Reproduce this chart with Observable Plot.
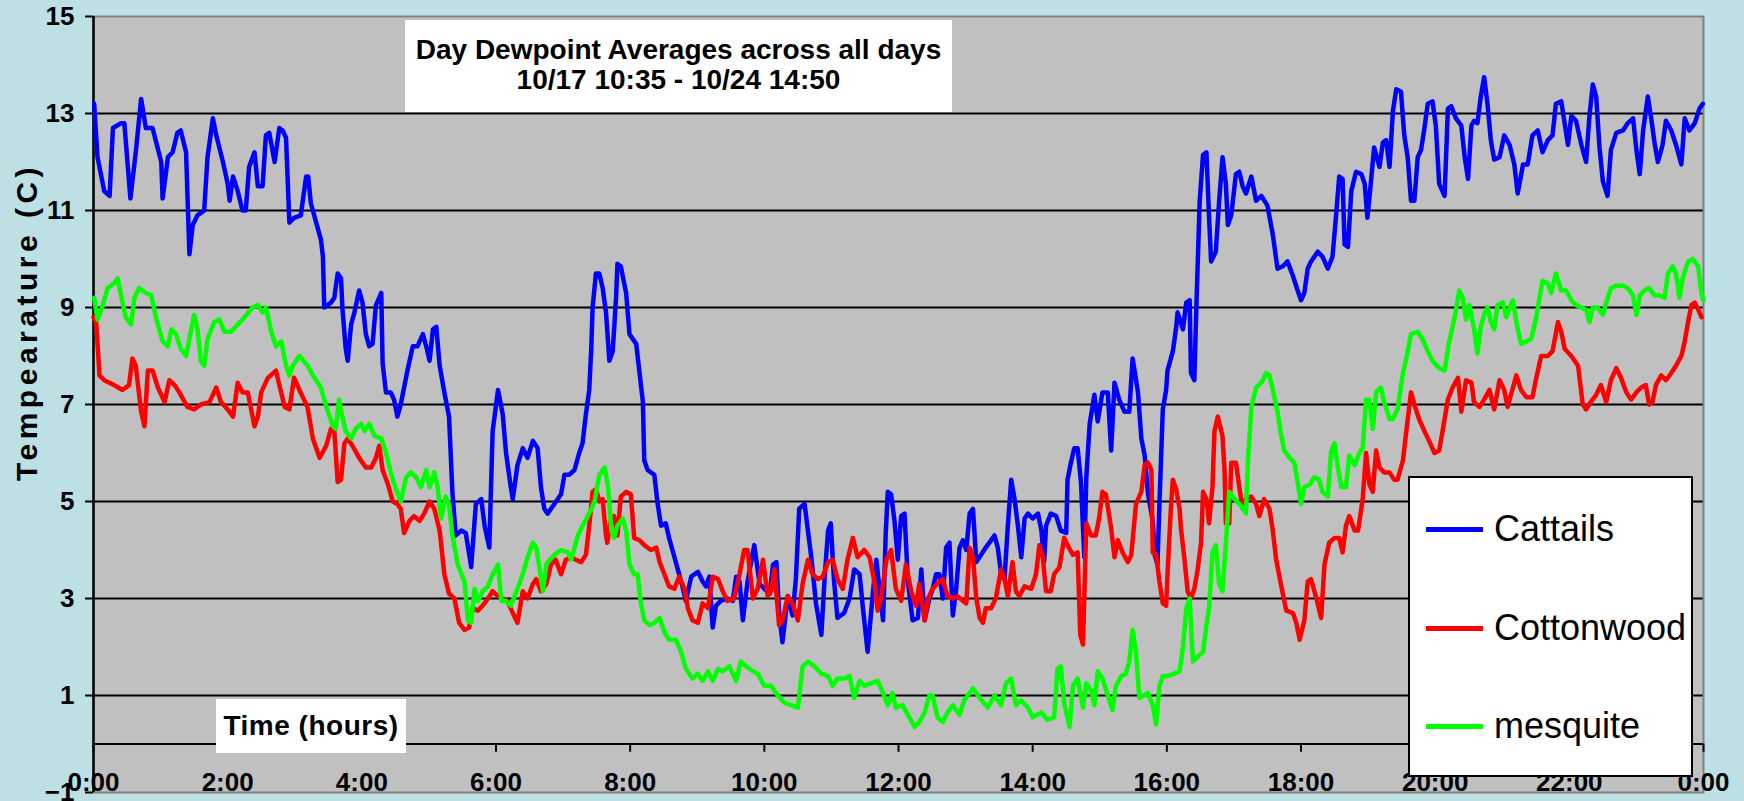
<!DOCTYPE html>
<html>
<head>
<meta charset="utf-8">
<script src="https://cdn.jsdelivr.net/npm/d3@7"></script>
<script src="https://cdn.jsdelivr.net/npm/@observablehq/plot@0.6"></script>
<style>
  body { margin: 0; background: #bce0e4; font-family: "Liberation Sans", Arial, sans-serif; }
  #wrap { position: relative; width: 1744px; height: 801px; overflow: hidden; }
  .box { position: absolute; background: #fff; color: #000; }
  #title { left: 405px; top: 20px; width: 547px; height: 92px; font-weight: bold; font-size: 28px; line-height: 30px; text-align: center; padding-top: 15px; box-sizing: border-box; }
  #timebox { left: 216px; top: 699px; width: 190px; height: 54px; font-weight: bold; font-size: 28px; line-height: 54px; text-align: center; letter-spacing: 0.5px; }
  #legend { left: 1408px; top: 476px; width: 285px; height: 301px; border: 2px solid #000; box-sizing: border-box; }
  .lg { position: absolute; left: 84px; height: 40px; line-height: 40px; font-size: 36px; }
  .sw { position: absolute; left: 16px; width: 57px; height: 5px; }
  #ylabel { position: absolute; left: 27px; top: 322px; transform: translate(-50%, -50%) rotate(-90deg); white-space: nowrap; font-weight: bold; font-size: 30px; letter-spacing: 4.5px; color: #000; }
</style>
</head>
<body>
<div id="wrap"></div>
<script>
// ---- axis / tick labels ----
const xTicks = [0, 2, 4, 6, 8, 10, 12, 14, 16, 18, 20, 22, 24];
const xTickLabels = ["0:00", "2:00", "4:00", "6:00", "8:00", "10:00", "12:00", "14:00", "16:00", "18:00", "20:00", "22:00", "0:00"];
const yTicks = [-1, 1, 3, 5, 7, 9, 11, 13, 15];
const gridValues = [0, 1, 3, 5, 7, 9, 11, 13];
const seriesNames = ["Cattails", "Cottonwood", "mesquite"];
const seriesColors = ["#0000ff", "#ff0000", "#00ff00"];
const yLabel = "Tempearature (C)";
const xLabel = "Time (hours)";
const titleLines = ["Day Dewpoint Averages across all days", "10/17 10:35 - 10/24 14:50"];

// ---- Cattails (hours of day, dewpoint C) ----
const cattailsHours = [0.01,0.06,0.16,0.24,0.29,0.41,0.46,0.55,0.63,0.71,0.78,0.88,1.01,1.03,1.11,1.18,1.25,1.30,1.38,1.43,1.48,1.55,1.65,1.70,1.78,1.83,1.93,2.00,2.03,2.08,2.15,2.22,2.27,2.32,2.40,2.45,2.52,2.57,2.62,2.70,2.77,2.82,2.87,2.92,2.99,3.09,3.17,3.20,3.24,3.32,3.39,3.42,3.44,3.54,3.59,3.64,3.69,3.71,3.76,3.79,3.84,3.89,3.96,4.01,4.06,4.11,4.16,4.21,4.29,4.31,4.36,4.43,4.48,4.53,4.58,4.68,4.76,4.83,4.91,4.96,5.01,5.06,5.11,5.16,5.23,5.30,5.35,5.40,5.48,5.55,5.63,5.70,5.78,5.83,5.90,5.95,6.03,6.10,6.15,6.22,6.25,6.32,6.40,6.47,6.55,6.62,6.67,6.72,6.77,6.87,6.97,7.02,7.09,7.17,7.24,7.29,7.34,7.39,7.42,7.44,7.49,7.54,7.59,7.64,7.69,7.74,7.79,7.81,7.86,7.94,7.99,8.09,8.14,8.19,8.21,8.26,8.36,8.41,8.46,8.53,8.58,8.66,8.71,8.78,8.83,8.91,9.01,9.08,9.13,9.18,9.23,9.28,9.35,9.45,9.53,9.58,9.63,9.68,9.75,9.85,9.93,10.00,10.08,10.13,10.18,10.22,10.27,10.35,10.42,10.47,10.52,10.60,10.65,10.70,10.77,10.85,10.90,10.95,10.99,11.04,11.09,11.19,11.27,11.34,11.42,11.47,11.54,11.62,11.67,11.72,11.77,11.81,11.84,11.89,11.94,11.99,12.04,12.09,12.14,12.21,12.29,12.34,12.39,12.46,12.51,12.56,12.61,12.66,12.71,12.76,12.81,12.86,12.91,12.96,13.01,13.06,13.11,13.16,13.23,13.30,13.38,13.43,13.48,13.53,13.58,13.63,13.68,13.73,13.78,13.83,13.88,13.93,14.00,14.08,14.13,14.17,14.20,14.27,14.35,14.42,14.50,14.52,14.57,14.62,14.67,14.72,14.77,14.80,14.85,14.92,14.97,15.04,15.12,15.17,15.22,15.29,15.37,15.44,15.49,15.57,15.62,15.67,15.72,15.79,15.82,15.86,15.89,15.94,15.99,16.01,16.09,16.14,16.16,16.24,16.29,16.34,16.36,16.41,16.44,16.49,16.54,16.59,16.63,16.66,16.73,16.78,16.83,16.88,16.91,16.96,17.03,17.08,17.13,17.18,17.26,17.33,17.41,17.50,17.58,17.65,17.73,17.80,17.88,17.95,18.00,18.05,18.10,18.15,18.25,18.32,18.40,18.47,18.52,18.57,18.62,18.65,18.70,18.75,18.82,18.90,18.95,18.99,19.04,19.09,19.17,19.22,19.27,19.32,19.37,19.42,19.49,19.54,19.59,19.64,19.69,19.74,19.79,19.84,19.89,19.96,20.01,20.06,20.14,20.19,20.24,20.31,20.39,20.44,20.49,20.54,20.58,20.63,20.68,20.73,20.78,20.83,20.88,20.96,21.03,21.11,21.18,21.23,21.31,21.38,21.45,21.53,21.60,21.68,21.75,21.80,21.88,21.98,22.03,22.10,22.18,22.25,22.30,22.35,22.40,22.45,22.50,22.57,22.62,22.70,22.80,22.87,22.95,23.00,23.05,23.10,23.17,23.22,23.27,23.32,23.39,23.44,23.52,23.59,23.67,23.72,23.79,23.87,23.94,23.99];
const cattailsDew = [13.2,12.1,11.4,11.3,12.7,12.8,12.8,11.25,12.2,13.3,12.7,12.7,12.0,11.25,12.1,12.2,12.6,12.65,12.2,10.1,10.7,10.9,11.0,12.1,12.9,12.55,12.0,11.55,11.2,11.7,11.4,11.0,11.0,11.9,12.2,11.5,11.5,12.55,12.6,12.0,12.7,12.65,12.5,10.75,10.85,10.9,11.7,11.7,11.15,10.75,10.4,10.05,9.0,9.1,9.2,9.7,9.6,9.0,8.15,7.9,8.65,8.9,9.35,9.1,8.45,8.2,8.25,9.05,9.3,7.85,7.25,7.25,7.1,6.75,7.0,7.7,8.2,8.2,8.45,8.2,7.9,8.55,8.6,7.8,7.25,6.75,5.2,4.3,4.4,4.35,3.65,4.95,5.05,4.5,4.05,6.45,7.3,6.8,6.0,5.3,5.05,5.75,6.1,5.9,6.25,6.1,5.3,4.85,4.75,4.95,5.15,5.55,5.55,5.65,6.0,6.2,6.8,7.3,8.15,9.0,9.7,9.7,9.4,8.9,7.9,8.1,9.2,9.9,9.85,9.3,8.45,8.25,7.65,7.05,5.85,5.65,5.55,4.95,4.5,4.55,4.25,3.85,3.6,3.25,2.95,3.45,3.55,3.35,3.25,3.45,2.4,2.85,2.95,3.0,2.95,3.45,3.35,2.55,3.35,4.1,3.3,3.2,3.1,3.7,3.75,2.7,2.1,3.05,2.65,3.4,4.85,4.95,4.4,3.85,2.9,2.25,3.45,4.4,4.55,3.35,2.6,2.7,3.0,3.6,3.5,2.8,1.9,3.15,3.8,3.15,2.55,4.35,5.2,5.15,4.6,3.8,4.7,4.75,3.35,2.55,2.6,3.6,2.55,3.0,3.2,3.5,3.5,3.0,4.05,4.15,2.65,3.2,4.05,4.2,4.0,4.75,4.85,3.75,3.9,4.05,4.2,4.3,4.05,3.5,3.4,4.5,5.45,5.05,4.5,3.85,4.65,4.75,4.65,4.75,4.4,3.75,4.5,4.75,4.7,4.4,4.35,5.45,5.8,6.1,6.1,5.4,3.85,5.5,6.6,7.2,6.65,7.25,7.25,6.05,7.45,7.1,6.85,6.85,7.95,7.25,6.3,5.95,5.15,4.6,3.9,3.7,4.95,6.9,7.3,7.7,8.1,8.6,8.9,8.55,9.1,9.15,7.65,7.5,9.0,11.2,12.15,12.2,10.85,9.95,10.15,11.2,12.1,11.55,10.7,10.9,11.75,11.8,11.5,11.35,11.7,11.2,11.3,11.1,10.5,9.8,9.85,9.95,9.65,9.35,9.15,9.3,9.8,9.95,10.15,10.05,9.8,10.05,10.85,11.7,11.65,10.3,10.25,11.4,11.8,11.75,11.55,10.85,11.55,12.3,11.9,12.4,12.45,11.9,13.05,13.5,13.45,12.55,12.1,11.2,11.2,12.1,12.25,12.7,13.2,13.25,12.75,11.55,11.3,13.1,13.15,12.9,12.75,12.1,11.65,12.75,12.85,12.8,13.35,13.75,13.2,12.45,12.05,12.1,12.55,12.35,11.95,11.35,11.95,11.95,12.55,12.65,12.2,12.45,12.55,13.2,13.25,12.35,12.95,12.85,12.35,12.0,12.95,13.6,13.35,12.3,11.6,11.3,12.25,12.6,12.65,12.8,12.9,12.25,11.75,12.65,13.35,12.9,12.4,12.0,12.35,12.85,12.65,12.35,11.95,12.9,12.65,12.8,13.1,13.2];

// ---- Cottonwood ----
const cottonwoodHours = [0.00,0.04,0.09,0.16,0.31,0.43,0.53,0.58,0.63,0.71,0.76,0.81,0.88,0.96,1.06,1.13,1.21,1.28,1.40,1.50,1.60,1.73,1.83,1.90,2.00,2.08,2.15,2.22,2.30,2.40,2.45,2.50,2.60,2.72,2.77,2.85,2.92,2.99,3.07,3.19,3.27,3.37,3.47,3.54,3.59,3.64,3.69,3.74,3.79,3.86,3.96,4.06,4.14,4.21,4.26,4.31,4.39,4.46,4.53,4.58,4.63,4.71,4.78,4.86,4.93,5.01,5.08,5.16,5.23,5.30,5.38,5.45,5.53,5.60,5.65,5.73,5.80,5.88,5.95,6.03,6.10,6.17,6.25,6.32,6.40,6.47,6.55,6.60,6.67,6.75,6.82,6.89,6.97,7.04,7.12,7.19,7.27,7.34,7.39,7.44,7.49,7.54,7.59,7.64,7.66,7.71,7.76,7.81,7.86,7.94,8.01,8.06,8.14,8.21,8.31,8.39,8.44,8.51,8.58,8.66,8.73,8.81,8.86,8.93,9.01,9.08,9.16,9.23,9.31,9.38,9.45,9.55,9.63,9.70,9.75,9.83,9.90,9.98,10.05,10.10,10.15,10.22,10.27,10.35,10.42,10.50,10.57,10.65,10.72,10.80,10.87,10.95,11.02,11.09,11.17,11.24,11.32,11.39,11.49,11.57,11.64,11.69,11.74,11.82,11.89,11.96,12.04,12.11,12.19,12.26,12.31,12.39,12.44,12.51,12.61,12.66,12.73,12.81,12.88,12.96,13.01,13.06,13.11,13.16,13.21,13.26,13.30,13.38,13.45,13.53,13.58,13.63,13.70,13.75,13.80,13.88,13.98,14.05,14.10,14.15,14.20,14.27,14.32,14.40,14.47,14.52,14.60,14.67,14.71,14.75,14.80,14.87,14.94,14.99,15.04,15.09,15.17,15.22,15.27,15.34,15.42,15.47,15.54,15.62,15.67,15.72,15.77,15.79,15.84,15.89,15.94,15.99,16.01,16.06,16.09,16.14,16.19,16.21,16.26,16.31,16.36,16.41,16.46,16.51,16.54,16.59,16.63,16.68,16.71,16.76,16.83,16.86,16.88,16.93,16.96,17.03,17.08,17.13,17.18,17.26,17.33,17.38,17.45,17.53,17.58,17.63,17.70,17.78,17.88,17.93,17.98,18.05,18.10,18.15,18.22,18.30,18.35,18.42,18.50,18.57,18.62,18.67,18.72,18.80,18.85,18.92,18.97,19.02,19.07,19.12,19.17,19.24,19.32,19.39,19.44,19.52,19.57,19.64,19.69,19.76,19.84,19.91,19.99,20.06,20.11,20.19,20.26,20.34,20.39,20.46,20.54,20.58,20.66,20.73,20.81,20.88,20.96,21.03,21.08,21.16,21.21,21.28,21.36,21.45,21.50,21.58,21.68,21.75,21.83,21.88,21.93,22.03,22.13,22.20,22.25,22.32,22.40,22.47,22.55,22.62,22.70,22.77,22.85,22.92,23.00,23.07,23.14,23.19,23.24,23.29,23.37,23.44,23.52,23.59,23.67,23.72,23.77,23.82,23.87,23.94,23.97];
const cottonwoodDew = [8.8,8.7,7.6,7.5,7.4,7.3,7.4,7.95,7.8,6.85,6.55,7.7,7.7,7.35,7.05,7.5,7.4,7.25,6.95,6.9,7.0,7.05,7.35,7.05,6.9,6.75,7.45,7.25,7.25,6.55,6.75,7.25,7.55,7.7,7.4,6.95,6.9,7.55,7.3,6.95,6.3,5.9,6.15,6.5,6.45,5.4,5.45,6.2,6.3,6.15,5.9,5.7,5.7,5.9,6.15,5.65,5.35,5.0,4.95,4.85,4.35,4.6,4.7,4.6,4.75,5.0,4.85,4.4,3.5,3.1,3.0,2.5,2.35,2.4,2.8,2.75,2.85,3.0,3.15,3.05,3.0,2.95,2.7,2.5,3.15,3.0,3.3,3.4,3.15,3.3,3.7,3.8,3.5,3.8,3.85,3.8,3.75,3.9,4.5,5.2,5.25,5.0,5.05,4.3,4.15,4.6,4.7,4.3,5.1,5.2,5.15,4.25,4.2,4.1,4.0,4.05,3.75,3.5,3.25,3.2,3.45,3.2,2.8,2.55,2.5,2.9,2.8,3.45,3.4,3.15,2.95,3.0,3.5,4.0,4.0,3.0,3.2,3.8,3.05,3.15,3.6,2.45,2.55,3.05,2.9,2.55,3.3,3.8,3.5,3.4,3.45,3.75,3.8,3.4,3.2,3.8,4.25,3.85,4.0,3.85,3.35,2.75,3.0,3.8,4.0,3.2,2.95,3.7,3.15,2.85,3.3,2.55,3.0,3.2,3.35,3.4,3.05,3.0,3.05,2.95,2.9,4.05,3.85,3.0,2.6,2.5,2.8,2.8,3.0,3.6,3.4,3.05,3.75,3.15,3.05,3.25,3.2,3.5,4.1,3.85,3.15,3.15,3.5,3.65,4.25,4.1,3.9,3.95,2.25,2.05,4.55,4.3,4.3,4.65,5.2,5.15,4.45,3.85,4.2,3.95,3.75,3.9,4.95,5.2,5.75,5.8,5.65,3.95,3.9,3.35,2.9,2.85,3.5,4.85,5.45,5.25,4.85,4.45,3.85,3.15,3.0,3.2,3.6,4.15,5.2,5.05,4.55,5.3,6.45,6.75,6.35,5.65,4.55,4.55,5.8,5.8,5.3,4.85,5.05,5.1,4.95,4.7,5.05,4.85,4.4,3.8,3.3,2.75,2.7,2.5,2.15,2.55,3.35,3.4,3.05,2.6,3.7,4.15,4.25,4.25,3.95,4.5,4.7,4.4,4.4,5.05,6.0,5.35,5.2,6.05,5.7,5.6,5.6,5.45,5.45,5.85,6.45,7.25,7.0,6.7,6.45,6.25,6.0,6.05,6.45,7.1,7.35,7.55,6.85,7.5,7.45,7.05,6.95,7.1,7.3,6.9,7.5,7.3,6.95,7.35,7.6,7.3,7.15,7.15,7.5,8.0,8.0,8.1,8.7,8.5,8.15,8.0,7.8,7.0,6.9,7.05,7.2,7.4,7.05,7.5,7.75,7.55,7.25,7.1,7.25,7.35,7.4,7.0,7.05,7.4,7.6,7.5,7.65,7.8,8.0,8.3,8.7,9.05,9.1,8.9,8.8];

// ---- mesquite ----
const mesquiteHours = [0.01,0.06,0.14,0.21,0.31,0.36,0.41,0.48,0.56,0.61,0.68,0.78,0.86,0.93,1.03,1.11,1.16,1.23,1.30,1.38,1.45,1.50,1.55,1.60,1.65,1.70,1.80,1.88,1.95,2.05,2.15,2.25,2.37,2.45,2.52,2.57,2.65,2.72,2.80,2.87,2.92,2.97,3.07,3.19,3.27,3.39,3.47,3.57,3.61,3.66,3.71,3.76,3.84,3.91,3.99,4.04,4.11,4.19,4.29,4.36,4.44,4.51,4.58,4.66,4.73,4.81,4.88,4.96,5.01,5.08,5.13,5.18,5.25,5.30,5.35,5.43,5.53,5.58,5.63,5.68,5.73,5.80,5.88,5.95,6.03,6.08,6.15,6.22,6.32,6.40,6.47,6.55,6.60,6.65,6.70,6.75,6.80,6.87,6.97,7.07,7.12,7.17,7.22,7.29,7.37,7.47,7.54,7.62,7.67,7.72,7.76,7.81,7.89,7.94,7.99,8.06,8.11,8.16,8.21,8.29,8.36,8.44,8.51,8.58,8.68,8.76,8.83,8.93,9.01,9.08,9.16,9.23,9.31,9.38,9.48,9.58,9.65,9.73,9.83,9.90,10.00,10.10,10.20,10.30,10.40,10.50,10.57,10.65,10.75,10.85,10.95,11.02,11.09,11.19,11.27,11.34,11.42,11.49,11.59,11.69,11.77,11.84,11.91,11.96,12.06,12.14,12.24,12.31,12.39,12.46,12.51,12.58,12.66,12.73,12.81,12.91,12.98,13.11,13.21,13.33,13.43,13.53,13.60,13.68,13.75,13.83,13.93,14.00,14.13,14.22,14.32,14.37,14.42,14.47,14.55,14.60,14.67,14.75,14.80,14.87,14.92,14.97,15.04,15.12,15.19,15.24,15.32,15.39,15.44,15.49,15.54,15.59,15.72,15.79,15.84,15.89,15.94,16.01,16.11,16.19,16.24,16.29,16.34,16.39,16.46,16.54,16.59,16.63,16.68,16.73,16.78,16.83,16.88,16.93,17.01,17.11,17.18,17.21,17.26,17.33,17.41,17.48,17.53,17.58,17.65,17.70,17.75,17.83,17.90,17.95,18.00,18.05,18.13,18.20,18.27,18.32,18.40,18.45,18.50,18.55,18.60,18.67,18.72,18.80,18.87,18.92,18.97,19.02,19.07,19.12,19.19,19.24,19.32,19.37,19.44,19.52,19.57,19.64,19.74,19.81,19.89,19.96,20.06,20.14,20.21,20.29,20.36,20.41,20.46,20.51,20.58,20.63,20.68,20.73,20.78,20.83,20.88,20.93,21.01,21.06,21.11,21.16,21.21,21.28,21.36,21.43,21.50,21.55,21.60,21.68,21.73,21.80,21.88,21.95,22.03,22.10,22.18,22.25,22.30,22.35,22.42,22.50,22.55,22.62,22.70,22.80,22.87,22.95,23.00,23.05,23.12,23.19,23.27,23.34,23.42,23.47,23.54,23.59,23.64,23.69,23.77,23.84,23.92,23.97,24.00];
const mesquiteDew = [9.2,8.75,9.05,9.4,9.5,9.6,9.25,8.8,8.65,9.2,9.4,9.3,9.25,8.8,8.3,8.2,8.55,8.45,8.15,8.0,8.5,8.85,8.55,7.9,7.8,8.35,8.7,8.75,8.5,8.5,8.65,8.8,9.0,9.05,8.9,9.0,8.5,8.2,8.3,7.8,7.6,7.8,8.0,7.8,7.6,7.35,6.95,6.55,6.5,7.1,6.75,6.45,6.3,6.5,6.6,6.45,6.6,6.35,6.3,6.0,5.55,5.25,5.0,5.5,5.6,5.5,5.3,5.65,5.3,5.6,5.3,4.65,5.1,4.95,4.3,3.7,3.35,2.55,2.5,3.2,2.95,3.15,3.25,3.5,3.7,2.95,2.95,2.85,3.2,3.5,3.85,4.15,4.05,3.6,3.15,3.7,3.8,3.9,4.0,3.95,3.8,4.05,4.3,4.5,4.7,5.0,5.55,5.7,5.3,4.4,4.25,4.5,4.65,4.4,3.7,3.5,3.5,2.9,2.55,2.45,2.5,2.6,2.3,2.15,2.15,1.9,1.55,1.35,1.45,1.3,1.5,1.3,1.55,1.5,1.6,1.3,1.7,1.6,1.5,1.45,1.2,1.2,1.0,0.85,0.8,0.75,1.6,1.7,1.6,1.45,1.4,1.2,1.35,1.35,1.4,0.95,1.3,1.2,1.25,1.3,1.05,0.8,1.05,0.75,0.8,0.6,0.35,0.45,0.65,1.0,1.0,0.55,0.45,0.65,0.8,0.6,0.9,1.15,0.95,0.75,1.0,0.8,1.25,1.35,0.8,0.9,0.75,0.55,0.65,0.5,0.55,1.55,1.6,0.85,0.35,1.2,1.35,0.75,1.25,1.1,0.8,1.5,1.35,1.0,0.7,1.2,1.4,1.45,1.7,2.35,1.9,0.95,1.05,0.8,0.4,1.2,1.4,1.4,1.45,1.5,2.0,2.8,3.0,1.7,1.8,1.9,2.45,2.8,3.95,4.1,3.3,3.15,4.15,5.2,5.05,4.9,4.75,5.85,6.95,7.35,7.45,7.65,7.6,7.3,6.85,6.4,6.05,5.9,5.8,5.4,4.95,5.3,5.35,5.5,5.45,5.2,5.1,6.05,6.2,5.7,5.3,5.3,5.95,5.75,6.0,6.1,7.1,7.1,6.5,7.25,7.35,7.05,6.7,6.7,6.9,7.65,7.95,8.45,8.5,8.35,8.1,7.9,7.75,7.7,8.3,8.8,9.35,9.2,8.75,9.05,8.55,8.05,8.6,8.85,9.0,8.7,8.55,9.05,9.1,8.8,9.0,9.15,8.7,8.25,8.3,8.35,8.75,9.15,9.55,9.5,9.3,9.7,9.35,9.35,9.15,9.05,9.0,8.95,8.7,9.0,9.0,8.85,9.1,9.4,9.45,9.45,9.4,9.25,8.85,9.25,9.35,9.4,9.25,9.25,9.2,9.7,9.85,9.7,9.2,9.6,9.95,10.0,9.85,9.3,9.15];

const toRows = (hours, dew, name) => hours.map((h, i) => ({hour: h, dew: dew[i], series: name}));
const cattails = toRows(cattailsHours, cattailsDew, seriesNames[0]);
const cottonwood = toRows(cottonwoodHours, cottonwoodDew, seriesNames[1]);
const mesquite = toRows(mesquiteHours, mesquiteDew, seriesNames[2]);

const font = "Liberation Sans, Arial, sans-serif";
const chart = Plot.plot({
  width: 1744,
  height: 801,
  marginLeft: 93,
  marginRight: 41,
  marginTop: 16,
  marginBottom: 9,
  style: {background: "transparent", fontFamily: font, overflow: "visible", color: "#000"},
  x: {domain: [0, 24], axis: null},
  y: {domain: [-1, 15], axis: null},
  marks: [
    Plot.frame({fill: "#c0c0c0"}),
    Plot.ruleY(gridValues, {stroke: "#000", strokeWidth: 2}),
    Plot.frame({stroke: "#808080", strokeWidth: 2}),
    Plot.ruleX([0], {stroke: "#000", strokeWidth: 2.5}),
    Plot.ruleX(xTicks, {y1: 0, y2: -0.17, stroke: "#000", strokeWidth: 2}),
    Plot.axisY({ticks: yTicks, tickSize: 8, tickPadding: 11, fontSize: 26, fontWeight: "bold", label: null, strokeWidth: 2}),
    Plot.text(xTicks, {x: d => d, y: -1, text: (d, i) => xTickLabels[i], dy: -10, lineAnchor: "middle", fontSize: 26, fontWeight: "bold", fill: "#000"}),
    Plot.line(cattails, {x: "hour", y: "dew", stroke: seriesColors[0], strokeWidth: 4.5, strokeLinejoin: "round"}),
    Plot.line(cottonwood, {x: "hour", y: "dew", stroke: seriesColors[1], strokeWidth: 4.5, strokeLinejoin: "round"}),
    Plot.line(mesquite, {x: "hour", y: "dew", stroke: seriesColors[2], strokeWidth: 4.5, strokeLinejoin: "round"})
  ]
});

const wrap = document.getElementById("wrap");
wrap.appendChild(chart);
chart.style.position = "absolute";
chart.style.left = "0px";
chart.style.top = "0px";

// y-axis title
const yl = document.createElement("div");
yl.id = "ylabel";
yl.textContent = yLabel;
wrap.appendChild(yl);

// title box
const title = document.createElement("div");
title.id = "title"; title.className = "box";
title.innerHTML = titleLines.join("<br>");
wrap.appendChild(title);

// x-axis title box
const tb = document.createElement("div");
tb.id = "timebox"; tb.className = "box";
tb.textContent = xLabel;
wrap.appendChild(tb);

// legend
const lg = document.createElement("div");
lg.id = "legend"; lg.className = "box";
const centers = [51, 150, 248];
seriesNames.forEach((name, i) => {
  const sw = document.createElement("div");
  sw.className = "sw";
  sw.style.background = seriesColors[i];
  sw.style.top = (centers[i] - 2.5) + "px";
  lg.appendChild(sw);
  const t = document.createElement("div");
  t.className = "lg";
  t.style.top = (centers[i] - 20) + "px";
  t.textContent = name;
  lg.appendChild(t);
});
wrap.appendChild(lg);
</script>
</body>
</html>
